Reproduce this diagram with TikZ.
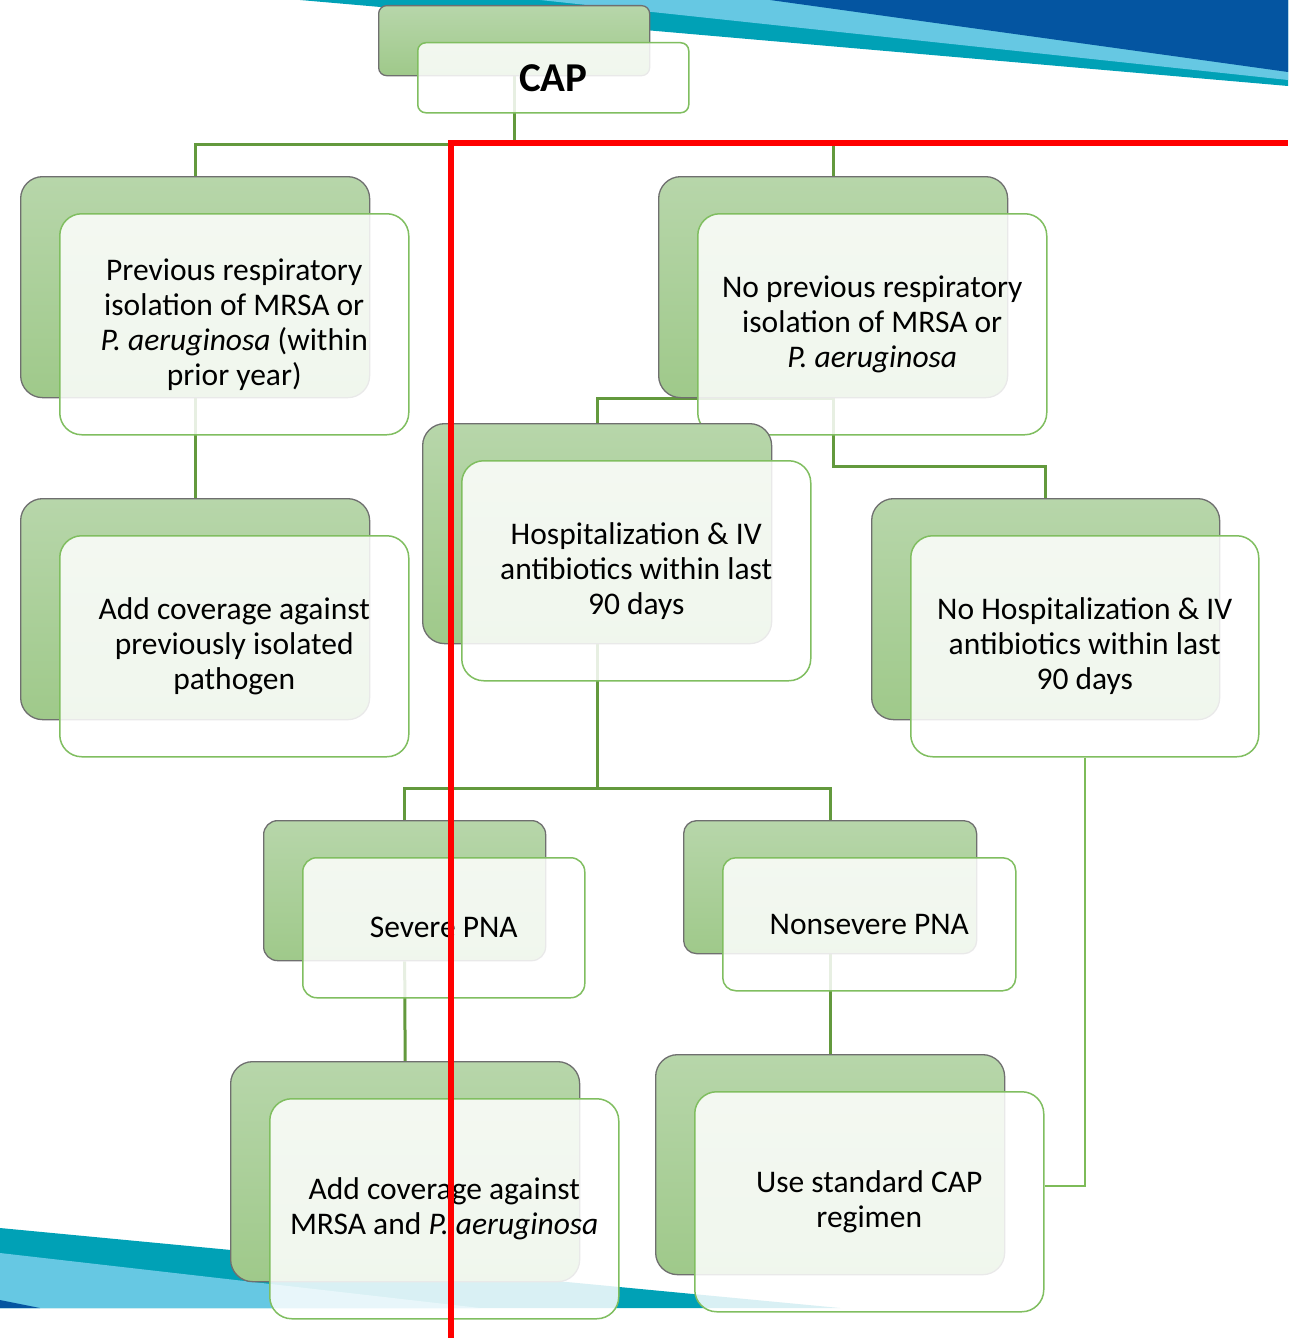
\documentclass[tikz,border=0pt]{standalone}
\usepackage{fontspec}
\setmainfont{Carlito}
\definecolor{dkblue}{HTML}{0455A1}
\definecolor{ltblue}{HTML}{66C8E3}
\definecolor{tealband}{HTML}{00A1B6}
\definecolor{conngreen}{HTML}{63993D}
\definecolor{lightconn}{HTML}{7DBB58}
\definecolor{frontedge}{HTML}{80BE60}
\definecolor{backtop}{HTML}{B7D6AA}
\definecolor{backbot}{HTML}{9FC98A}
\definecolor{backedge}{HTML}{6F6F6F}
\pgfdeclarelayer{deco}
\pgfdeclarelayer{conn}
\pgfdeclarelayer{over}
\pgfsetlayers{deco,conn,main,over}
\tikzset{
  backbox/.style={draw=backedge, line width=1.3pt, top color=backtop, bottom color=backbot, anchor=north west, inner sep=0pt},
  frontbox/.style={draw=frontedge, line width=1.5pt, fill=white, fill opacity=0.85, anchor=north west, inner sep=0pt},
  boxlabel/.style={align=center, font=\fontsize{31.5}{35}\selectfont, text=black, inner sep=0pt},
  conn/.style={draw=conngreen, line width=3pt},
  connlight/.style={draw=lightconn, line width=2pt},
  redline/.style={draw=red, line width=6pt}
}
\newcommand\mybox[7]{%
  \node[backbox, minimum width=#4pt, minimum height=#5pt, rounded corners=#6pt] (#1-b) at (#2,#3) {};
  \node[frontbox, minimum width=#4pt, minimum height=#5pt, rounded corners=#6pt] (#1) at ({#2+39},{#3+37}) {};
  \node[boxlabel] (#1-t) at (#1.center) {#7};
}
\begin{document}
\begin{tikzpicture}[x=1pt,y=-1pt]
\useasboundingbox (0,0) rectangle (1288,1338);
\begin{pgfonlayer}{deco}
  \fill[white] (0,0) rectangle (1288,1338);
  \fill[tealband] (300,0) -- (1288,0) -- (1288,86) -- cycle;
  \fill[ltblue] (540,0) -- (1288,0) -- (1288,80) -- cycle;
  \fill[dkblue] (770,0) -- (1288,0) -- (1288,72) -- cycle;
  \fill[tealband] (0,1228) -- (840,1308) -- (0,1308) -- cycle;
  \fill[ltblue] (0,1253) -- (480,1308) -- (0,1308) -- cycle;
  \fill[dkblue] (0,1300) -- (40,1308) -- (0,1308) -- cycle;
\end{pgfonlayer}

\node[backbox, minimum width=271pt, minimum height=70pt, rounded corners=8pt] (cap-b) at (378,5) {};
\node[frontbox, minimum width=271pt, minimum height=70pt, rounded corners=8pt] (cap) at (417,42) {};
\node[boxlabel, font=\fontsize{41}{45}\selectfont\bfseries] (cap-t) at (cap.center) {CAP};

\mybox{n1}{20}{176}{349}{221}{22}{Previous respiratory\\isolation of MRSA or\\\textit{P. aeruginosa} (within\\prior year)}
\mybox{n2}{658}{176}{349}{221}{22}{No previous respiratory\\isolation of MRSA or\\\textit{P. aeruginosa}}
\mybox{n3}{20}{498}{349}{221}{22}{Add coverage against\\previously isolated\\pathogen}
\mybox{n4}{422}{423}{349}{220}{22}{Hospitalization \& IV\\antibiotics within last\\90 days}
\mybox{n5}{871}{498}{348}{221}{22}{No Hospitalization \& IV\\antibiotics within last\\90 days}
\mybox{n6}{263}{820}{282}{140}{14}{Severe PNA}
\mybox{n7}{683}{820}{293}{133}{13}{Nonsevere PNA}
\mybox{n8}{230}{1061}{349}{220}{22}{Add coverage against\\MRSA and \textit{P. aeruginosa}}
\mybox{n9}{655}{1054}{349}{220}{22}{Use standard CAP\\regimen}

\begin{pgfonlayer}{conn}
  \draw[conn] (cap-b.south) -- (cap-b.south |- 0,144) -| (n1-b.north);
  \draw[conn] (cap-b.south |- 0,144) -| (n2-b.north);
  \draw[conn] (n1-b.south) -- (n3-b.north);
  \draw[conn] (n2-b.south) -| (n4-b.north);
  \draw[conn] (n2-b.south) -- (n2-b.south |- 0,466) -| (n5-b.north);
  \draw[conn] (n4-b.south) -- (n4-b.south |- 0,788) -| (n6-b.north);
  \draw[conn] (n4-b.south |- 0,788) -| (n7-b.north);
  \draw[conn] (n6-b.south) -- (n8-b.north);
  \draw[conn] (n7-b.south) -- (n9-b.north);
  \draw[connlight] (n5.south) -- (n5.south |- 0,1186) -- (n9.east |- 0,1186);
\end{pgfonlayer}

\begin{pgfonlayer}{over}
  \draw[redline] (451,1338) -- (451,143) -- (1288,143);
\end{pgfonlayer}
\end{tikzpicture}
\end{document}
